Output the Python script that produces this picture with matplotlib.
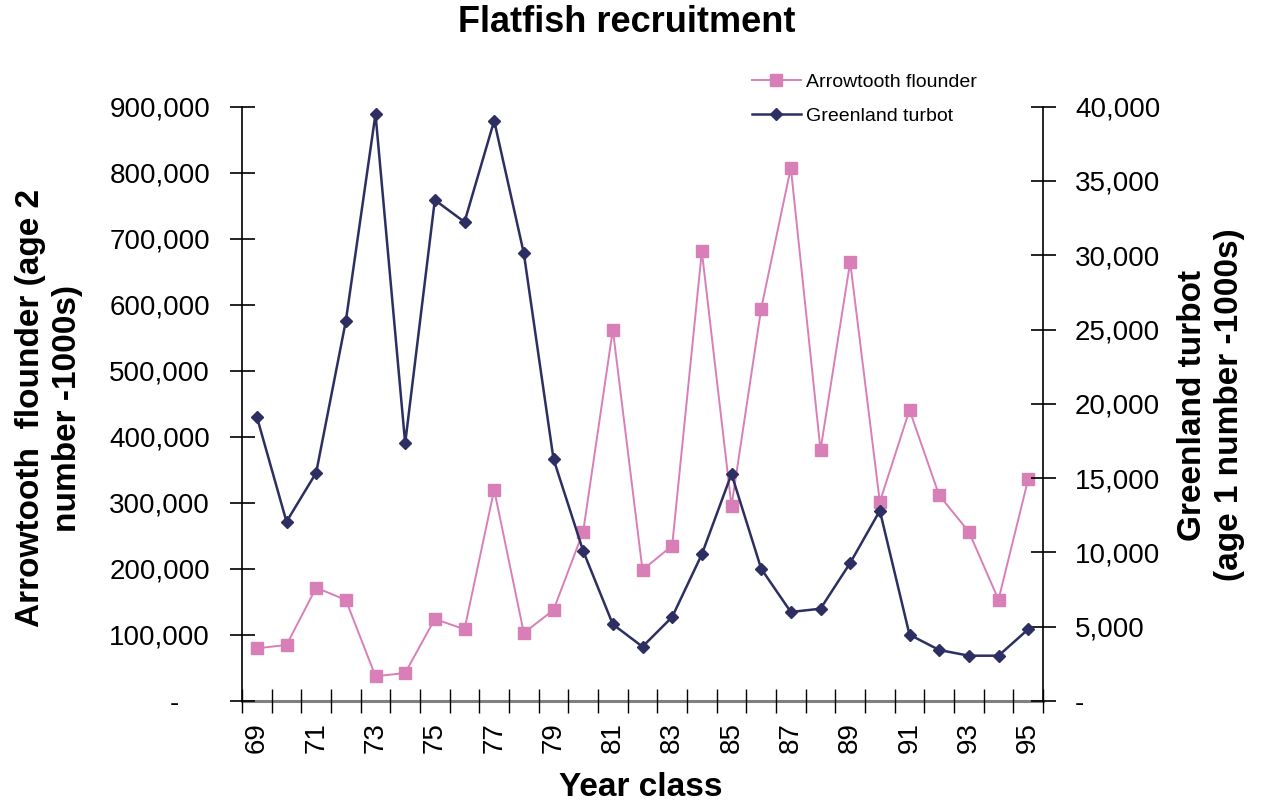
import matplotlib
matplotlib.use("Agg")
import matplotlib.pyplot as plt
from matplotlib.ticker import FixedLocator, FuncFormatter, MultipleLocator

plt.rcParams['font.family'] = ['Liberation Sans', 'DejaVu Sans']

years = list(range(69, 96))
arrowtooth = [79800, 84800, 171600, 153000, 37400, 42400, 124200, 108600, 320000,
              103000, 137800, 256400, 562300, 198400, 235200, 681000, 295300, 594100,
              807600, 380100, 664800, 301400, 440700, 311500, 256400, 153400, 335700]
turbot = [19135, 12068, 15366, 25576, 39509, 17345, 33720, 32240, 39058, 30132,
          16288, 10096, 5162, 3655, 5654, 9874, 15279, 8905, 5990, 6213, 9288,
          12810, 4463, 3433, 3049, 3049, 4826]
xtick_labels = [str(y) for y in years[::2]]

PINK = '#D97FB7'
NAVY = '#2D2E62'

W, H = 1261, 806
fig = plt.figure(figsize=(W / 100, H / 100), dpi=100)
ax = fig.add_axes([242 / W, 1 - 701 / H, (1043 - 242) / W, (701 - 106.7) / H])
ax2 = ax.twinx()

x = list(range(len(years)))
l1, = ax.plot(x, arrowtooth, color=PINK, lw=1.4, marker='s', ms=9,
              mfc=PINK, mec=PINK, label='Arrowtooth flounder', clip_on=False)
l2, = ax2.plot(x, turbot, color=NAVY, lw=1.8, marker='D', ms=6.3,
               mfc=NAVY, mec=NAVY, label='Greenland turbot', clip_on=False)

ax.set_xlim(-0.5, len(years) - 0.5)
ax.set_ylim(0, 900000)
ax2.set_ylim(0, 40000)

# spines
for a in (ax, ax2):
    a.spines['top'].set_visible(False)
    a.patch.set_visible(False)
ax.spines['right'].set_visible(False)
ax2.spines['left'].set_visible(False)
ax2.spines['bottom'].set_visible(False)
ax.spines['left'].set_color('black')
ax.spines['left'].set_linewidth(1.2)
ax2.spines['right'].set_color('black')
ax2.spines['right'].set_linewidth(1.2)
ax.spines['bottom'].set_color('#808080')
ax.spines['bottom'].set_linewidth(2.2)
ax.spines['bottom'].set_zorder(0.5)

# y ticks
def left_fmt(v, pos):
    if v == 0:
        return '-' + '\u00a0' * 4
    return f'{int(v):,}'

def right_fmt(v, pos):
    if v == 0:
        return '-'
    return f'{int(v):,}'

ax.yaxis.set_major_locator(MultipleLocator(100000))
ax.yaxis.set_major_formatter(FuncFormatter(left_fmt))
ax2.yaxis.set_major_locator(MultipleLocator(5000))
ax2.yaxis.set_major_formatter(FuncFormatter(right_fmt))
ax.tick_params(axis='y', direction='inout', length=18, width=1.2, color='black',
               labelsize=20, pad=14)
ax2.tick_params(axis='y', direction='inout', length=18, width=1.2, color='black',
                labelsize=20, pad=14)

# x ticks: labels at odd years, tick marks at category boundaries
ax.xaxis.set_major_locator(FixedLocator(x[::2]))
ax.set_xticklabels(xtick_labels, rotation=90)
ax.tick_params(axis='x', which='major', length=0, labelsize=20, pad=15)
ax.xaxis.set_minor_locator(FixedLocator([i - 0.5 for i in range(len(years) + 1)]))
ax.tick_params(axis='x', which='minor', direction='inout', length=17, width=1.0,
               color='black')

# labels
fig.text(627 / W, 1 - 22 / H, 'Flatfish recruitment', ha='center', va='center',
         fontsize=26, fontweight='bold')
fig.text(641 / W, 1 - 788 / H, 'Year class', ha='center', va='center',
         fontsize=24, fontweight='bold')
fig.text(49 / W, 1 - 408 / H, 'Arrowtooth  flounder (age 2\nnumber -1000s)',
         ha='center', va='center', rotation=90, fontsize=24, fontweight='bold',
         multialignment='center', linespacing=1.25)
fig.text(1211 / W, 1 - 405 / H, 'Greenland turbot\n(age 1 number -1000s)',
         ha='center', va='center', rotation=90, fontsize=24, fontweight='bold',
         multialignment='center', linespacing=1.25)

leg = fig.legend(handles=[l1, l2], loc='upper left',
                 bbox_to_anchor=(752 / W, 1 - 73 / H), frameon=False,
                 fontsize=14, handlelength=2.5, handletextpad=0.3,
                 labelspacing=0.85, borderpad=0, borderaxespad=0)

fig.savefig('out.png', dpi=100)
